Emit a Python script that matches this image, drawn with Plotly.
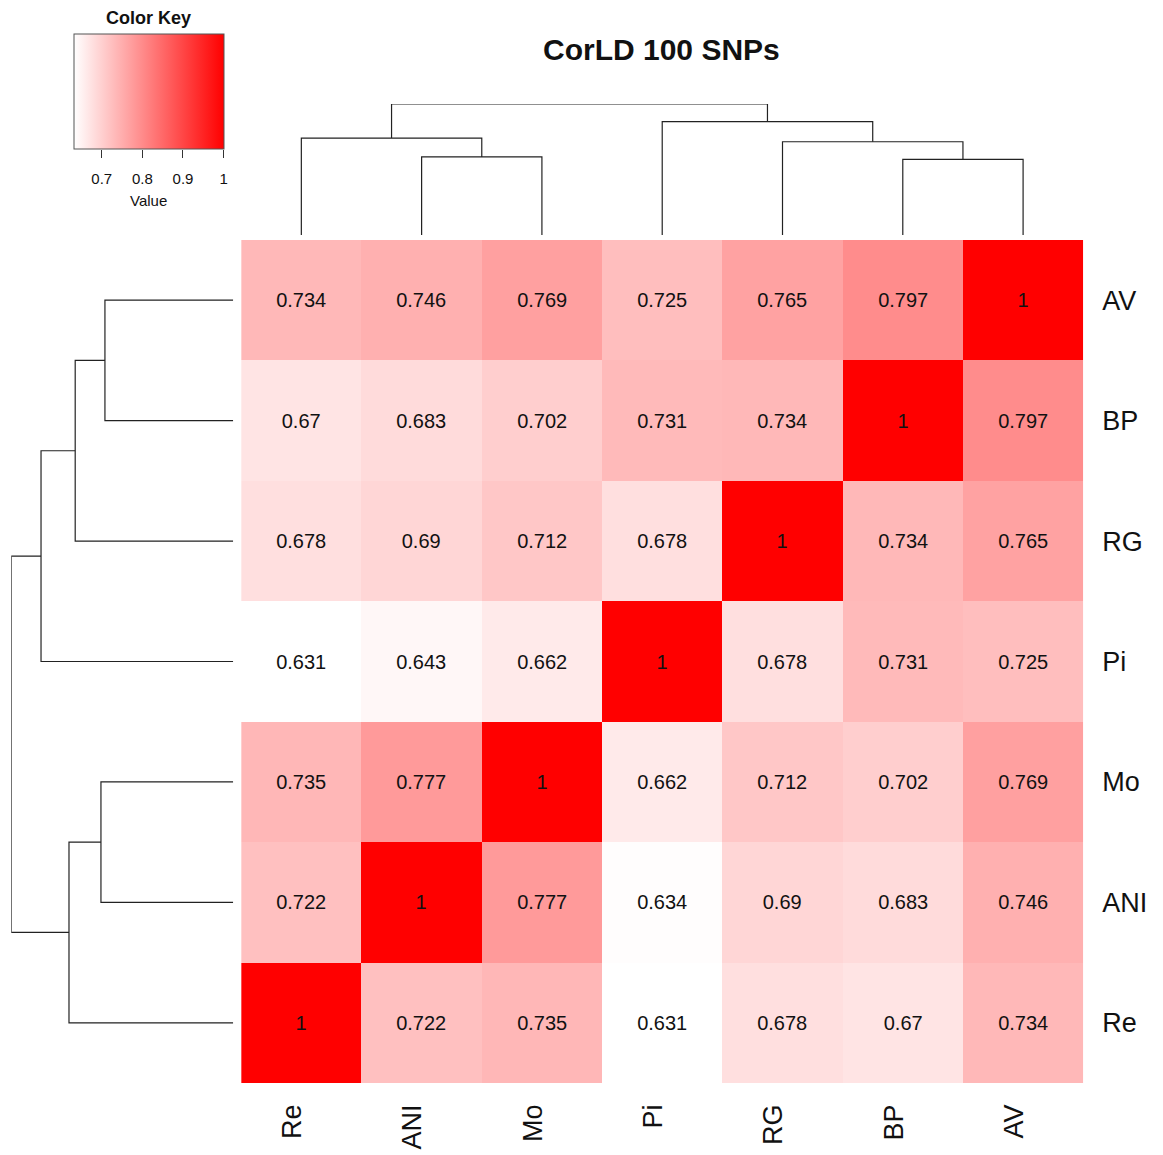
import plotly.graph_objects as go

# ---------------- data ----------------
cols = ["Re", "ANI", "Mo", "Pi", "RG", "BP", "AV"]          # left -> right
rows = ["AV", "BP", "RG", "Pi", "Mo", "ANI", "Re"]          # top -> bottom

row_AV  = [0.734, 0.746, 0.769, 0.725, 0.765, 0.797, 1]
row_BP  = [0.67, 0.683, 0.702, 0.731, 0.734, 1, 0.797]
row_RG  = [0.678, 0.69, 0.712, 0.678, 1, 0.734, 0.765]
row_Pi  = [0.631, 0.643, 0.662, 1, 0.678, 0.731, 0.725]
row_Mo  = [0.735, 0.777, 1, 0.662, 0.712, 0.702, 0.769]
row_ANI = [0.722, 1, 0.777, 0.634, 0.69, 0.683, 0.746]
row_Re  = [1, 0.722, 0.735, 0.631, 0.678, 0.67, 0.734]

# dendrogram merges: (left child, right child, height)  -- height relative to root
merges = [
    ("ANI", "Mo", 0.596),
    ("Re", "c0", 0.740),
    ("BP", "AV", 0.578),
    ("RG", "c2", 0.712),
    ("Pi", "c3", 0.866),
    ("c1", "c4", 1.0),
]

key_ticks = [0.7, 0.8, 0.9, 1]
key_min, key_max = 0.631, 1.0

title = "CorLD 100 SNPs"

# ---------------- figure ----------------
OFF = 8                      # page body margin
W, H = 1163 - 2 * OFF, 1155 - OFF
FONT = "Liberation Sans, Arial, sans-serif"

z = [row_AV, row_BP, row_RG, row_Pi, row_Mo, row_ANI, row_Re]
text = [[f"{v:g}" for v in r] for r in z]


def px_x(p):
    return (p - OFF) / W


def px_y(p):
    return 1 - (p - OFF) / H


def dendro_segments(order):
    pos = {name: i for i, name in enumerate(order)}
    hgt = {name: 0.0 for name in order}
    segs = []
    for k, (a, b, h) in enumerate(merges):
        pa, pb = pos[a], pos[b]
        ha, hb = hgt[a], hgt[b]
        segs.append(((pa, ha), (pa, h), (pb, h), (pb, hb)))
        pos[f"c{k}"] = (pa + pb) / 2
        hgt[f"c{k}"] = h
    return segs


fig = go.Figure()

fig.add_trace(go.Heatmap(
    z=z, x=cols, y=rows, text=text, texttemplate="%{text}",
    textfont=dict(family=FONT, size=20, color="#111"),
    colorscale=[[0, "#ffffff"], [1, "#ff0000"]],
    zmin=key_min, zmax=key_max,
    colorbar=dict(
        orientation="h", x=px_x(149), xanchor="center",
        y=px_y(34.3), yanchor="top", len=150, lenmode="pixels",
        thickness=115, xpad=0, ypad=0,
        outlinewidth=1, outlinecolor="#555",
        ticks="", showticklabels=False,
    ),
    xaxis="x", yaxis="y", hoverinfo="skip",
))

# top dendrogram (columns)
xs, ys = [], []
for seg in dendro_segments(cols):
    for (p, h) in seg:
        xs.append(p)
        ys.append(h)
    xs.append(None)
    ys.append(None)
fig.add_trace(go.Scatter(x=xs, y=ys, mode="lines", line=dict(color="#222", width=1.2),
                         xaxis="x3", yaxis="y3", hoverinfo="skip", cliponaxis=False,
                         showlegend=False))

# left dendrogram (rows)
xs, ys = [], []
for seg in dendro_segments(rows):
    for (p, h) in seg:
        xs.append(h)
        ys.append(p)
    xs.append(None)
    ys.append(None)
fig.add_trace(go.Scatter(x=xs, y=ys, mode="lines", line=dict(color="#222", width=1.2),
                         xaxis="x4", yaxis="y4", hoverinfo="skip", cliponaxis=False,
                         showlegend=False))

# colour-key value axis (ticks only)
fig.add_trace(go.Scatter(x=[key_min, key_max], y=[0, 0], mode="markers",
                         marker=dict(opacity=0), xaxis="x5", yaxis="y5",
                         hoverinfo="skip", showlegend=False))

hm_x = [px_x(242), px_x(1087)]
hm_y = [px_y(1083), px_y(240)]

hidden = dict(showgrid=False, zeroline=False, showticklabels=False, ticks="", showline=False)

fig.update_layout(
    width=W, height=H, margin=dict(l=0, r=0, t=0, b=0),
    paper_bgcolor="white", plot_bgcolor="rgba(0,0,0,0)", showlegend=False,
    font=dict(family=FONT, color="#111"),
    xaxis=dict(domain=hm_x, range=[-0.5, 6.5], side="bottom", tickangle=-90,
               tickfont=dict(family=FONT, size=27, color="#111"),
               ticks="", ticklabelstandoff=15, ticklabelshift=-9,
               showgrid=False, zeroline=False, anchor="y"),
    yaxis=dict(domain=hm_y, autorange="reversed", side="right",
               tickfont=dict(family=FONT, size=27, color="#111"),
               ticks="", ticklabelstandoff=18, showgrid=False, zeroline=False,
               anchor="x"),
    xaxis3=dict(domain=hm_x, range=[-0.5, 6.5], anchor="y3", **hidden),
    yaxis3=dict(domain=[px_y(235), px_y(104)], range=[0, 1], anchor="x3", **hidden),
    xaxis4=dict(domain=[px_x(11.3), px_x(234)], range=[1, 0], anchor="y4", **hidden),
    yaxis4=dict(domain=hm_y, range=[6.5, -0.5], anchor="x4", **hidden),
    xaxis5=dict(domain=[px_x(74), px_x(224.3)], range=[key_min, key_max], anchor="y5",
                side="bottom", showgrid=False, zeroline=False, showline=False,
                ticks="outside", ticklen=8, tickwidth=1, tickcolor="#333",
                tickvals=key_ticks, ticktext=[f"{t:g}" for t in key_ticks],
                tickfont=dict(family=FONT, size=15, color="#111"),
                ticklabelstandoff=8),
    yaxis5=dict(domain=[px_y(149.3), px_y(34.3)], range=[0, 1], anchor="x5", **hidden),
    annotations=[
        dict(text=f"<b>{title}</b>", x=px_x(664), y=px_y(49), xref="paper", yref="paper",
             showarrow=False, xanchor="center", yanchor="middle",
             font=dict(family=FONT, size=30, color="#111")),
        dict(text="<b>Color Key</b>", x=px_x(149), y=px_y(18), xref="paper", yref="paper",
             showarrow=False, xanchor="center", yanchor="middle",
             font=dict(family=FONT, size=18, color="#111")),
        dict(text="Value", x=px_x(149), y=px_y(201), xref="paper", yref="paper",
             showarrow=False, xanchor="center", yanchor="middle",
             font=dict(family=FONT, size=15, color="#111")),
    ],
)

fig.write_html("out.html")
